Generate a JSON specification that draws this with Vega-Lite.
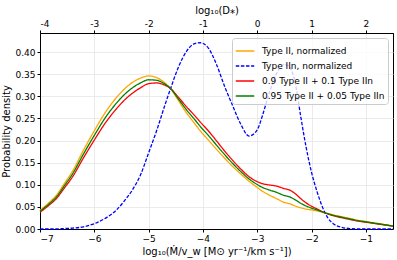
{
 "$schema": "https://vega.github.io/schema/vega-lite/v6.json",
 "width": 353,
 "height": 196,
 "autosize": {"type": "none"},
 "padding": {"left": 40, "top": 33, "right": 4, "bottom": 31},
 "data": {"values": [
  {"x": -7, "a": 0.042, "b": 0, "c": 0.0378, "d": 0.0399},
  {"x": -6.85, "a": 0.058, "b": 0, "c": 0.0522, "d": 0.0551},
  {"x": -6.7, "a": 0.076, "b": 0, "c": 0.0684, "d": 0.0722},
  {"x": -6.55, "a": 0.103, "b": 0.001, "c": 0.0928, "d": 0.0979},
  {"x": -6.4, "a": 0.131, "b": 0.002, "c": 0.1181, "d": 0.1246},
  {"x": -6.2, "a": 0.178, "b": 0.005, "c": 0.1607, "d": 0.1694},
  {"x": -6, "a": 0.222, "b": 0.012, "c": 0.201, "d": 0.2115},
  {"x": -5.8, "a": 0.263, "b": 0.024, "c": 0.2391, "d": 0.2511},
  {"x": -5.6, "a": 0.296, "b": 0.042, "c": 0.2706, "d": 0.2833},
  {"x": -5.45, "a": 0.316, "b": 0.063, "c": 0.2907, "d": 0.3034},
  {"x": -5.3, "a": 0.331, "b": 0.088, "c": 0.3067, "d": 0.3189},
  {"x": -5.15, "a": 0.341, "b": 0.122, "c": 0.3191, "d": 0.3301},
  {"x": -5, "a": 0.346, "b": 0.172, "c": 0.3286, "d": 0.3373},
  {"x": -4.85, "a": 0.342, "b": 0.223, "c": 0.3301, "d": 0.3361},
  {"x": -4.7, "a": 0.33, "b": 0.28, "c": 0.325, "d": 0.3275},
  {"x": -4.6, "a": 0.318, "b": 0.316, "c": 0.3178, "d": 0.3179},
  {"x": -4.45, "a": 0.29, "b": 0.366, "c": 0.2976, "d": 0.2938},
  {"x": -4.3, "a": 0.262, "b": 0.402, "c": 0.276, "d": 0.269},
  {"x": -4.15, "a": 0.238, "b": 0.419, "c": 0.2561, "d": 0.2471},
  {"x": -4.05, "a": 0.222, "b": 0.421, "c": 0.2419, "d": 0.232},
  {"x": -3.9, "a": 0.201, "b": 0.409, "c": 0.2218, "d": 0.2115},
  {"x": -3.75, "a": 0.18, "b": 0.372, "c": 0.1992, "d": 0.1896},
  {"x": -3.6, "a": 0.16, "b": 0.322, "c": 0.1762, "d": 0.1681},
  {"x": -3.45, "a": 0.141, "b": 0.278, "c": 0.1547, "d": 0.1479},
  {"x": -3.3, "a": 0.124, "b": 0.236, "c": 0.1352, "d": 0.1296},
  {"x": -3.15, "a": 0.108, "b": 0.21, "c": 0.1182, "d": 0.1131},
  {"x": -3, "a": 0.094, "b": 0.224, "c": 0.107, "d": 0.1005},
  {"x": -2.9, "a": 0.085, "b": 0.258, "c": 0.1023, "d": 0.0937},
  {"x": -2.8, "a": 0.078, "b": 0.299, "c": 0.0999, "d": 0.0891},
  {"x": -2.65, "a": 0.069, "b": 0.35, "c": 0.0971, "d": 0.0831},
  {"x": -2.5, "a": 0.06, "b": 0.372, "c": 0.0912, "d": 0.0756},
  {"x": -2.4, "a": 0.057, "b": 0.365, "c": 0.0878, "d": 0.0724},
  {"x": -2.3, "a": 0.052, "b": 0.33, "c": 0.0798, "d": 0.0659},
  {"x": -2.2, "a": 0.048, "b": 0.255, "c": 0.0687, "d": 0.0583},
  {"x": -2.1, "a": 0.045, "b": 0.185, "c": 0.059, "d": 0.052},
  {"x": -2, "a": 0.043, "b": 0.128, "c": 0.0515, "d": 0.0473},
  {"x": -1.9, "a": 0.041, "b": 0.085, "c": 0.0454, "d": 0.0432},
  {"x": -1.8, "a": 0.038, "b": 0.05, "c": 0.0392, "d": 0.0386},
  {"x": -1.7, "a": 0.035, "b": 0.025, "c": 0.034, "d": 0.0345},
  {"x": -1.6, "a": 0.032, "b": 0.012, "c": 0.03, "d": 0.031},
  {"x": -1.45, "a": 0.028, "b": 0.004, "c": 0.0256, "d": 0.0268},
  {"x": -1.3, "a": 0.024, "b": 0.001, "c": 0.0217, "d": 0.0229},
  {"x": -1.15, "a": 0.02, "b": 0, "c": 0.018, "d": 0.019},
  {"x": -1, "a": 0.017, "b": 0, "c": 0.0153, "d": 0.0162},
  {"x": -0.85, "a": 0.014, "b": 0, "c": 0.0126, "d": 0.0133},
  {"x": -0.7, "a": 0.011, "b": 0, "c": 0.0099, "d": 0.0105},
  {"x": -0.5, "a": 0.007, "b": 0, "c": 0.0063, "d": 0.0067}
 ]},
 "transform": [{"fold": ["a", "b", "c", "d"], "as": ["k", "y"]}],
 "layer": [
  {
   "mark": {"type": "line", "strokeWidth": 1.3, "interpolate": "monotone"},
   "encoding": {
    "x": {"field": "x", "type": "quantitative",
     "scale": {"domain": [-7, -0.5], "nice": false, "zero": false},
     "axis": {"orient": "bottom", "values": [-7, -6, -5, -4, -3, -2, -1], "grid": true,
      "title": "log₁₀(Ṁ/v_w [M⊙ yr⁻¹/km s⁻¹])",
      "labelExpr": "replace(format(datum.value,'d'),'-','−')"}},
    "y": {"field": "y", "type": "quantitative",
     "scale": {"domain": [0, 0.443], "nice": false},
     "axis": {"values": [0, 0.05, 0.1, 0.15, 0.2, 0.25, 0.3, 0.35, 0.4], "format": ".2f", "grid": true, "title": "Probability density"}},
    "color": {"field": "k", "type": "nominal",
     "scale": {"domain": ["a", "b", "c", "d"], "range": ["#FFA500", "#0000FF", "#FF0000", "#008000"]},
     "legend": {"title": null, "labelExpr": "datum.label == 'a' ? 'Type II, normalized' : datum.label == 'b' ? 'Type IIn, normalized' : datum.label == 'c' ? '0.9 Type II + 0.1 Type IIn' : '0.95 Type II + 0.05 Type IIn'"}},
    "strokeDash": {"field": "k", "type": "nominal",
     "scale": {"domain": ["a", "b", "c", "d"], "range": [[1, 0], [3.5, 1.6], [1, 0], [1, 0]]},
     "legend": {"title": null, "labelExpr": "datum.label == 'a' ? 'Type II, normalized' : datum.label == 'b' ? 'Type IIn, normalized' : datum.label == 'c' ? '0.9 Type II + 0.1 Type IIn' : '0.95 Type II + 0.05 Type IIn'"}}
   }
  },
  {
   "mark": {"type": "point", "opacity": 0},
   "encoding": {
    "x": {"field": "x", "type": "quantitative",
     "axis": {"orient": "top", "values": [-7, -6, -5, -4, -3, -2, -1], "grid": false,
      "title": "log₁₀(D⁎)",
      "labelExpr": "'' + (datum.value + 3)"}}
   }
  }
 ],
 "resolve": {"axis": {"x": "independent"}},
 "config": {
  "font": "DejaVu Sans",
  "view": {"stroke": "black", "strokeWidth": 1},
  "axis": {"labelFont": "DejaVu Sans", "labelFontSize": 9, "labelColor": "black",
   "titleFont": "DejaVu Sans", "titleFontSize": 10, "titleFontWeight": "normal", "titleColor": "black",
   "tickColor": "black", "tickSize": 3, "labelPadding": 2, "domainColor": "black",
   "gridColor": "#e6e6e6", "gridWidth": 0.8},
  "axisY": {"titlePadding": 3},
  "axisBottom": {"titlePadding": 3},
  "axisTop": {"titlePadding": 4},
  "legend": {"orient": "top-right", "offset": 5, "padding": 3,
   "fillColor": "rgba(255,255,255,0.8)", "strokeColor": "#cccccc", "cornerRadius": 3,
   "labelFont": "DejaVu Sans", "labelFontSize": 9, "labelColor": "black",
   "symbolType": "stroke", "symbolSize": 340, "symbolStrokeWidth": 1.5,
   "labelOffset": 7, "rowPadding": -4.5}
 }
}
